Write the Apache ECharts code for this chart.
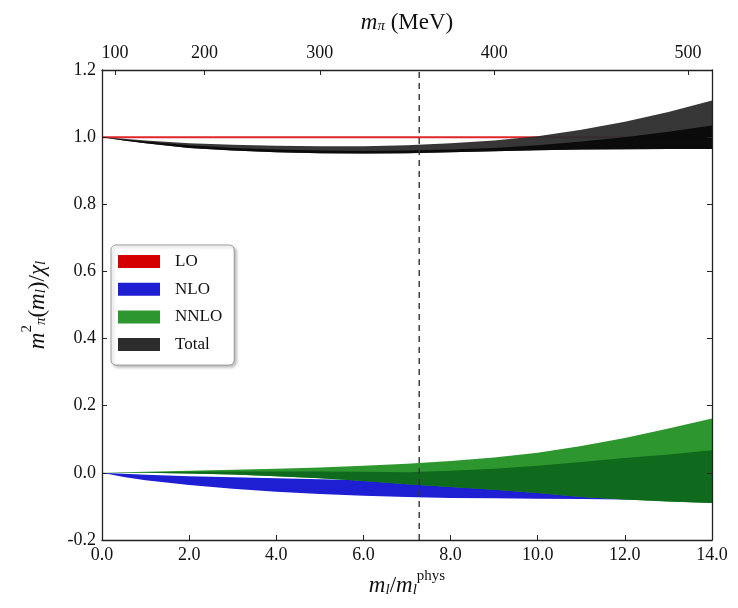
<!DOCTYPE html>
<html>
<head>
<meta charset="utf-8">
<script src="https://cdn.jsdelivr.net/npm/echarts@6/dist/echarts.min.js"></script>
<style>html,body{margin:0;padding:0;background:#fff}#c{width:738px;height:608px}</style>
</head>
<body>
<div id="c"></div>
<script>
// ---- data ----
const mlRatio   = [0, 0.5, 1, 2, 3, 4, 5, 6, 7, 8, 9, 10, 11, 12, 13, 14];
const loValues  = [1.0, 1.0, 1.0, 1.0, 1.0, 1.0, 1.0, 1.0, 1.0, 1.0, 1.0, 1.0, 1.0, 1.0, 1.0, 1.0];
const nloUpper  = [0, -0.003, -0.006, -0.010, -0.013, -0.016, -0.019, -0.022, -0.025, -0.027, -0.029, -0.031, -0.033, -0.035, -0.036, -0.037];
const nloLower  = [0, -0.012, -0.022, -0.036, -0.047, -0.056, -0.063, -0.068, -0.072, -0.075, -0.076, -0.077, -0.078, -0.079, -0.080, -0.080];
const nnloUpper = [0, 0.002, 0.003, 0.006, 0.009, 0.012, 0.016, 0.021, 0.027, 0.035, 0.046, 0.060, 0.080, 0.104, 0.132, 0.162];
const nnloMid   = [0, 0.001, 0.002, 0.003, 0.004, 0.004, 0.004, 0.003, 0.002, 0.006, 0.012, 0.021, 0.032, 0.044, 0.055, 0.067];
const nnloLower = [0, 0.000, 0.000, -0.002, -0.005, -0.010, -0.016, -0.024, -0.034, -0.042, -0.050, -0.060, -0.072, -0.079, -0.085, -0.090];
const totUpper  = [1.0, 0.995, 0.990, 0.982, 0.977, 0.974, 0.973, 0.973, 0.976, 0.982, 0.990, 1.003, 1.022, 1.046, 1.075, 1.109];
const totMid    = [1.0, 0.993, 0.987, 0.976, 0.968, 0.963, 0.960, 0.959, 0.960, 0.963, 0.968, 0.976, 0.987, 1.000, 1.016, 1.035];
const totLower  = [1.0, 0.990, 0.982, 0.968, 0.960, 0.955, 0.952, 0.951, 0.952, 0.955, 0.958, 0.961, 0.963, 0.964, 0.965, 0.965];
const refMl = 7.28;                       // dashed vertical reference line
const topTickMpi = [100, 200, 300, 400, 500];          // m_pi tick labels (MeV)
const topTickMl  = [0.30, 2.35, 5.0, 9.0, 13.45];      // m_l/m_l^phys at each m_pi tick
const seriesNames = ['LO', 'NLO', 'NNLO', 'Total'];

// ---- chart ----
const FONT = 'Liberation Serif';
const chart = echarts.init(document.getElementById('c'), null, {renderer: 'canvas'});

function band(name, lo, hi, color, z, opacity) {
  return {
    type: 'custom', name: name, coordinateSystem: 'cartesian2d',
    xAxisIndex: 0, yAxisIndex: 0, clip: true, z: z, silent: true,
    itemStyle: {color: color},
    data: mlRatio.map((x, i) => [x, lo[i], hi[i]]),
    encode: {x: 0, y: [1, 2]},
    renderItem: function (params, api) {
      if (params.dataIndex !== 0) return null;
      const pts = [];
      for (let i = 0; i < mlRatio.length; i++) pts.push(api.coord([mlRatio[i], hi[i]]));
      for (let i = mlRatio.length - 1; i >= 0; i--) pts.push(api.coord([mlRatio[i], lo[i]]));
      return {type: 'polygon', shape: {points: pts}, style: {fill: color, opacity: opacity}};
    }
  };
}

const rich = {
  it:  {fontFamily: FONT, fontStyle: 'italic', fontSize: 23, lineHeight: 26, color: '#111', verticalAlign: 'bottom'},
  rm:  {fontFamily: FONT, fontSize: 23, lineHeight: 26, color: '#111', verticalAlign: 'bottom'},
  sub: {fontFamily: FONT, fontStyle: 'italic', fontSize: 15, lineHeight: 14, padding: [14, 0, 0, 0], color: '#111', verticalAlign: 'bottom'},
  sup: {fontFamily: FONT, fontSize: 15, lineHeight: 14, padding: [0, 0, 14, 0], color: '#111', verticalAlign: 'bottom'}
};

const axisLineStyle = {show: true, onZero: false, lineStyle: {color: '#222', width: 1.3}};
const tickStyle = {show: true, inside: true, length: 5, lineStyle: {color: '#222', width: 1}};
const labelFont = {fontFamily: FONT, fontSize: 18, color: '#111'};

const option = {
  animation: false,
  backgroundColor: '#fff',
  grid: {left: 102, right: 26, top: 68, bottom: 68, containLabel: false},
  legend: {
    data: seriesNames, orient: 'vertical', left: 111, top: 245,
    icon: 'rect', itemWidth: 42, itemHeight: 13, itemGap: 10.7,
    padding: [8, 12, 12, 7],
    backgroundColor: '#fff', borderColor: '#9a9a9a', borderWidth: 1, borderRadius: 5,
    shadowColor: 'rgba(0,0,0,0.25)', shadowBlur: 3, shadowOffsetX: 2, shadowOffsetY: 2,
    textStyle: {fontFamily: FONT, fontSize: 17, lineHeight: 17, color: '#111', padding: [0, 0, 0, 10]},
    selectedMode: false
  },
  xAxis: [
    {
      type: 'value', position: 'bottom', min: 0, max: 14, interval: 2, z: 20,
      axisLine: axisLineStyle, axisTick: tickStyle, splitLine: {show: false},
      axisLabel: Object.assign({margin: 6, formatter: v => v.toFixed(1)}, labelFont),
      name: '{it|m}{sub|l}{rm|/}{it|m}{sub|l}{sup|phys}', nameLocation: 'middle', nameGap: 27,
      nameTextStyle: {rich: rich}
    },
    {
      type: 'value', position: 'top', min: 0, max: 14, z: 20,
      axisLine: axisLineStyle,
      axisTick: Object.assign({}, tickStyle, {customValues: topTickMl}),
      splitLine: {show: false},
      axisLabel: Object.assign({
        margin: 8, customValues: topTickMl,
        formatter: v => {
          const i = topTickMl.findIndex(t => Math.abs(t - v) < 1e-6);
          return i >= 0 ? String(topTickMpi[i]) : '';
        }
      }, labelFont),
      name: '{it|m}{sub|π}{rm| (MeV)}', nameLocation: 'middle', nameGap: 36,
      nameTextStyle: {rich: rich}
    }
  ],
  yAxis: [
    {
      type: 'value', position: 'left', min: -0.2, max: 1.2, interval: 0.2, z: 20,
      axisLine: axisLineStyle, axisTick: tickStyle, splitLine: {show: false},
      axisLabel: Object.assign({margin: 6, formatter: v => v.toFixed(1)}, labelFont),
      name: '{it|m}{sup|2}{sub|π}{rm|(}{it|m}{sub|l}{rm|)/}{it|χ}{sub|l}', nameLocation: 'middle', nameGap: 53,
      nameTextStyle: {rich: rich}
    },
    {
      type: 'value', position: 'right', min: -0.2, max: 1.2, interval: 0.2, z: 20,
      axisLine: axisLineStyle, axisTick: tickStyle, splitLine: {show: false},
      axisLabel: {show: false}
    }
  ],
  series: [
    {
      type: 'line', name: 'LO', data: mlRatio.map((x, i) => [x, loValues[i]]),
      showSymbol: false, z: 2, silent: true,
      lineStyle: {color: '#e0262a', width: 2}, itemStyle: {color: '#d40000'}
    },
    band('NLO', nloLower, nloUpper, '#1e1ed2', 3, 1),
    band('NNLO', nnloLower, nnloUpper, '#2e962e', 4, 1),
    band('NNLO inner', nnloLower, nnloMid, '#0f6a1e', 5, 1),
    band('Total', totLower, totUpper, '#2c2c2c', 6, 0.95),
    band('Total inner', totLower, totMid, '#080808', 7, 0.95),
    {
      type: 'line', name: 'ref', data: [[refMl, -0.2], [refMl, 1.2]],
      showSymbol: false, z: 10, silent: true,
      lineStyle: {color: '#333', width: 1.4, type: [6, 5]}
    }
  ]
};
chart.setOption(option);
</script>
</body>
</html>
